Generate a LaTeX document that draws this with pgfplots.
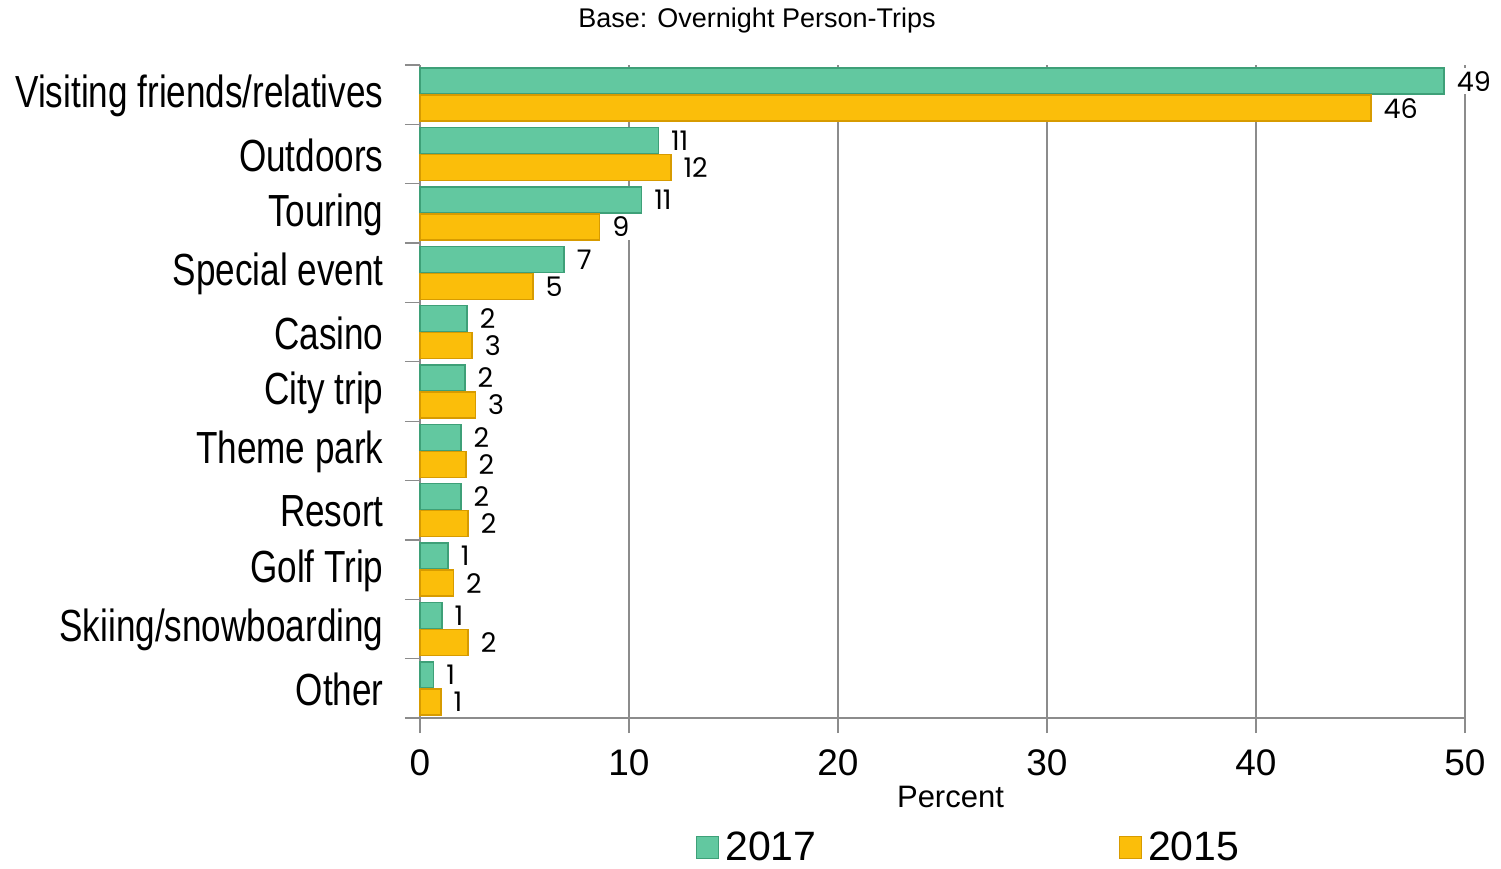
\documentclass[border=0pt]{standalone}
\usepackage{pgfplots}
\pgfplotsset{compat=1.18}
\usepackage{pgfplotstable}
\usepackage{fontspec}
\setmainfont{Liberation Sans}
\newfontfamily\narrowfont{Liberation Sans}[FakeStretch=0.78]
\newfontfamily\labfont{Poppins}
\definecolor{grn}{RGB}{98,200,160}
\definecolor{grnd}{RGB}{62,160,120}
\definecolor{ylw}{RGB}{251,190,10}
\definecolor{ylwd}{RGB}{215,155,0}
\definecolor{axgray}{RGB}{140,140,140}

\pgfplotstableread{
y v17 l17 v15 l15
10 49.0 49 45.5 46
9 11.4 11 12.0 12
8 10.6 11 8.6 9
7 6.9 7 5.4 5
6 2.25 2 2.5 3
5 2.15 2 2.65 3
4 1.95 2 2.2 2
3 1.95 2 2.3 2
2 1.35 1 1.6 2
1 1.05 1 2.3 2
0 0.65 1 1.0 1
}\datatable

\begin{document}
\begin{tikzpicture}
\useasboundingbox (0,0) rectangle (1501bp,869bp);
\node[font=\fontsize{27bp}{31bp}\selectfont] at (757bp,848bp) {Base: Overnight Person-Trips};
\begin{axis}[
  at={(420bp,151bp)}, anchor=south west,
  width=1045bp, height=653bp, scale only axis,
  xmin=0, xmax=50, ymin=-0.5, ymax=10.5,
  axis x line*=bottom, axis y line*=left,
  axis line style={axgray, line width=1.2bp, -},
  xtick={0,10,...,50},
  xmajorgrids, grid style={axgray, line width=1.2bp},
  tick align=outside, major tick length=15bp,
  tick style={axgray, line width=1.2bp},
  ytick={-0.5,0.5,...,10.5}, yticklabels={},
  extra y ticks={0,1,...,10},
  extra y tick labels={Other,Skiing/snowboarding,Golf Trip,Resort,Theme park,City trip,Casino,Special event,Touring,Outdoors,Visiting friends/relatives},
  extra y tick style={tick style={draw=none}, yticklabel style={font=\fontsize{45bp}{50bp}\selectfont\narrowfont, anchor=east, xshift=-18bp, yshift=-1bp}},
  /pgf/number format/assume math mode=true,
  xticklabel style={font=\fontsize{37bp}{42bp}\selectfont, anchor=north, yshift=-13bp},
  xlabel={Percent},
  xlabel style={font=\fontsize{31bp}{36bp}\selectfont, at={(rel axis cs:0.5,0)}, anchor=center, yshift=-79bp, xshift=8bp},
  xbar, bar width=26bp,
  point meta=explicit symbolic,
  nodes near coords,
  nodes near coords style={font=\fontsize{27bp}{31bp}\selectfont\labfont, fill=white, inner sep=3bp, anchor=west, xshift=9bp, text=black},
  legend image code/.code={\draw[#1] (0bp,-11bp) rectangle (22bp,11bp);},
  legend style={at={(rel axis cs:0.525,-0.198)}, anchor=center, draw=none, fill=none,
    font=\fontsize{41bp}{45bp}\selectfont, legend columns=2, inner sep=0pt,
    /tikz/every even column/.append style={column sep=300bp},
    /tikz/every odd column/.append style={column sep=4bp}},
  clip=false,
]
\addplot[fill=grn, draw=grnd, line width=1.5bp, bar shift=13.5bp] table[x=v17, y=y, meta=l17] {\datatable};
\addlegendentry{2017}
\addplot[fill=ylw, draw=ylwd, line width=1.5bp, bar shift=-13.5bp] table[x=v15, y=y, meta=l15] {\datatable};
\addlegendentry{2015}
\end{axis}
\end{tikzpicture}
\end{document}
